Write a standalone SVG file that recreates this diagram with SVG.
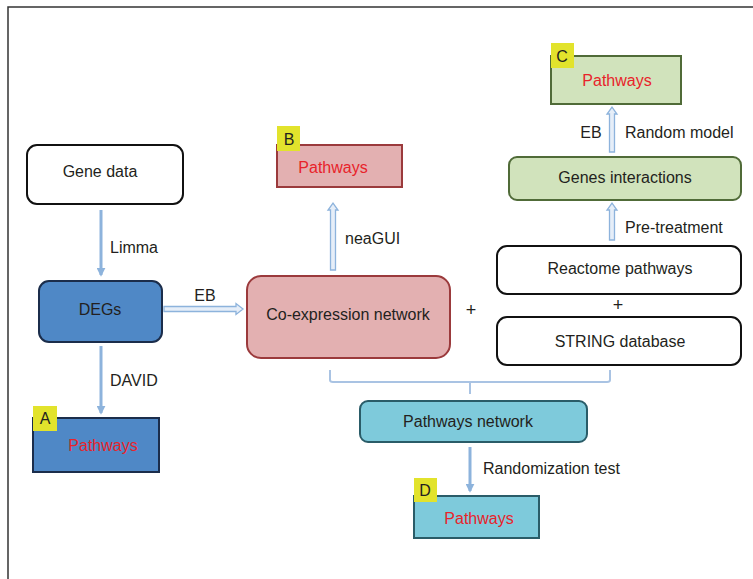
<svg xmlns="http://www.w3.org/2000/svg" width="753" height="579" viewBox="0 0 753 579">
<defs>
<style>
text{font-family:"Liberation Sans Narrow","Liberation Sans",Arial,sans-serif;font-size:16px;fill:#231f20;text-anchor:middle;dominant-baseline:central}
.lbl{text-anchor:start}
.red{fill:#e8232a}
.box{stroke-width:2}
.white{fill:#ffffff;stroke:#111111}
.blue{fill:#4f88c6;stroke:#1b2d4b}
.pink{fill:#e3b0b1;stroke:#9b3a3c}
.green{fill:#d1e3bc;stroke:#506b38}
.cyan{fill:#7ecadb;stroke:#2a5c68}
.tag{fill:#e2e32c}
.single{stroke:#8db3dc;stroke-width:3;fill:none}
.hollow{fill:#e6eef8;stroke:#8db3dc;stroke-width:1.3}
.brace{stroke:#a9c3e3;stroke-width:2;fill:none}
</style>
<marker id="ah" viewBox="0 0 10 10" refX="8" refY="5" markerWidth="3" markerHeight="3" orient="auto">
<path d="M0,0 L10,5 L0,10 z" fill="#8db3dc"/>
</marker>
</defs>
<rect width="753" height="579" fill="#ffffff"/>
<path d="M8,579 L8,7 L753,7" fill="none" stroke="#333333" stroke-width="1.5"/>

<g id="connectors">
<line class="single" x1="101" y1="210" x2="101" y2="275" marker-end="url(#ah)"/>
<line class="single" x1="101" y1="346" x2="101" y2="413" marker-end="url(#ah)"/>
<line class="single" x1="470" y1="447" x2="470" y2="491" marker-end="url(#ah)"/>
<path class="hollow" d="M164,306.5 L236,306.5 L236,303.5 L243,309 L236,314.5 L236,311.5 L164,311.5 z"/>
<path class="hollow" d="M330.5,270 L330.5,210 L328,210 L333,203 L338,210 L335.5,210 L335.5,270 z"/>
<path class="hollow" d="M609.5,240 L609.5,210 L607,210 L612,203 L617,210 L614.5,210 L614.5,240 z"/>
<path class="hollow" d="M609.5,152 L609.5,114 L607,114 L612,107 L617,114 L614.5,114 L614.5,152 z"/>
<path class="brace" d="M330,370 L330,380 Q330,382 333,382 L607,382 Q610,382 610,380 L610,370 M470,382 L470,394"/>
<text class="lbl" x="110" y="247">Limma</text>
<text class="lbl" x="110" y="380">DAVID</text>
<text x="205" y="295">EB</text>
<text class="lbl" x="345" y="238">neaGUI</text>
<text class="lbl" x="625" y="227">Pre-treatment</text>
<text x="591" y="132">EB</text>
<text class="lbl" x="625" y="132">Random model</text>
<text class="lbl" x="483" y="468">Randomization test</text>
<text x="471" y="310" style="font-size:18px">+</text>
<text x="618" y="305" style="font-size:18px">+</text>
</g>

<g id="gene-data">
<rect class="box white" x="27" y="145" width="156" height="59" rx="10"/>
<text x="100" y="171">Gene data</text>
</g>
<g id="degs">
<rect class="box blue" x="39" y="281" width="123" height="61" rx="10"/>
<text x="100" y="309">DEGs</text>
</g>
<g id="pathways-a">
<rect class="box blue" x="33" y="418" width="126" height="54"/>
<rect class="tag" x="33" y="406" width="24" height="25"/>
<text x="45" y="418">A</text>
<text class="red" x="103" y="445">Pathways</text>
</g>
<g id="coexpression">
<rect class="box pink" x="247" y="276" width="203" height="82" rx="14"/>
<text x="348" y="314">Co-expression network</text>
</g>
<g id="pathways-b">
<rect class="box pink" x="277" y="145" width="125" height="42"/>
<rect class="tag" x="277" y="126" width="23" height="25"/>
<text x="289" y="139">B</text>
<text class="red" x="333" y="167">Pathways</text>
</g>
<g id="reactome">
<rect class="box white" x="497" y="246" width="244" height="48" rx="10"/>
<text x="620" y="268">Reactome pathways</text>
</g>
<g id="string">
<rect class="box white" x="497" y="317" width="244" height="48" rx="10"/>
<text x="620" y="341">STRING database</text>
</g>
<g id="genes-interactions">
<rect class="box green" x="509" y="157" width="232" height="43" rx="8"/>
<text x="625" y="177">Genes interactions</text>
</g>
<g id="pathways-c">
<rect class="box green" x="551" y="56" width="130" height="48"/>
<rect class="tag" x="551" y="43" width="23" height="25"/>
<text x="562" y="56">C</text>
<text class="red" x="617" y="80">Pathways</text>
</g>
<g id="pathways-network">
<rect class="box cyan" x="360" y="401" width="227" height="41" rx="8"/>
<text x="468" y="421">Pathways network</text>
</g>
<g id="pathways-d">
<rect class="box cyan" x="414" y="496" width="125" height="42"/>
<rect class="tag" x="414" y="478" width="23" height="24"/>
<text x="425" y="490">D</text>
<text class="red" x="479" y="518">Pathways</text>
</g>
</svg>
